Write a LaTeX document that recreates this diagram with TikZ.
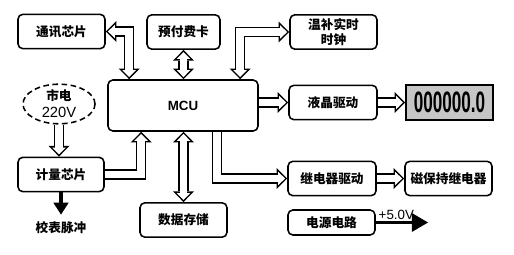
\documentclass[tikz,border=0pt]{standalone}
\usepackage{fontspec}
\setmainfont{Liberation Sans}
\newfontfamily\cjk{Noto Sans CJK SC}
\usetikzlibrary{arrows.meta, shapes.geometric, calc}

% Masse der Hohlpfeile
\def\aw{7.5pt}
\def\iw{5.3pt}
\def\kb{14.9pt}
\def\kl{7.5pt}
\def\ikb{9.6pt}
\def\ikl{4.84pt}
\def\sh{1.56pt}

\tikzset{
    kasten/.style={draw, line width=1.1pt, rounded corners=3.5pt, fill=white,
        minimum width=2.175cm, minimum height=0.86cm, inner sep=1pt, align=center,
        font=\cjk\bfseries\fontsize{9}{11}\selectfont},
    aussenspitze/.tip={Triangle[width=\kb, length=\kl, line width=0pt]},
    innenspitze/.tip={Triangle[width=\ikb, length=\ikl, line width=0pt]},
    aussenE/.style={line width=\aw, color=black, -{aussenspitze}},
    aussenB/.style={line width=\aw, color=black, {aussenspitze}-{aussenspitze}},
    innenE/.style={line width=\iw, color=white, shorten >=\sh, -{innenspitze}},
    innenB/.style={line width=\iw, color=white, shorten >=\sh, shorten <=\sh,
        {innenspitze}-{innenspitze}},
}

% Hohlpfeil: erst schwarz, dann weiss darueber
\newcommand{\hohl}[2]{\draw[aussen#1] #2; \draw[innen#1] #2;}

\begin{document}
\begin{tikzpicture}[x=0.025cm, y=-0.025cm]

% Hintergrund
\fill[white] (0,0) rectangle (514,255);
\useasboundingbox (0,0) rectangle (514,255);

% Kaesten
\node[kasten] (comm) at (61.5,31.5) {通讯芯片};
\node[kasten, minimum width=1.825cm] (card) at (183.5,32) {预付费卡};
\node[kasten] (rtc) at (333.5,32) {温补实时\\时钟};
\node[kasten, minimum width=3.75cm, minimum height=1.275cm,
      font=\bfseries\fontsize{9.5}{11}\selectfont] (mcu) at (183,105.5) {MCU};
\node[kasten, minimum width=2.2cm] (lcddrv) at (333,102.5) {液晶驱动};
\node[kasten, minimum width=2.2cm] (relaydrv) at (332,178.5) {继电器驱动};
\node[kasten] (relay) at (448.5,178.5) {磁保持继电器};
\node[kasten, minimum height=0.625cm] (power) at (331.5,222.5) {电源电路};
\node[kasten, minimum width=2.15cm] (meter) at (61,174.5) {计量芯片};
\node[kasten] (store) at (183.5,220) {数据存储};

% Anzeige
\node[draw, line width=1.2pt, fill=gray!45, minimum width=2.175cm,
      minimum height=0.875cm, inner sep=0pt] (lcd) at (449.5,102.5)
      {\scalebox{0.58}[1]{\bfseries\fontsize{21}{21}\selectfont 000000.0}};

% Netz
\node[ellipse, draw, dashed, line width=1.1pt, dash pattern=on 4pt off 2.5pt,
      minimum width=1.8cm, minimum height=0.95cm, inner sep=0pt, align=center,
      font=\fontsize{10.5}{12}\selectfont] (mains) at (59,104)
      {{\cjk\bfseries\fontsize{9}{12}\selectfont 市电}\\220V};

% Beschriftung unten links
\node[font=\cjk\bfseries\fontsize{9}{11}\selectfont, inner sep=1pt] (pulse) at (61,228) {校表脉冲};

% Hohlpfeile
\hohl{B}{(comm.east) -| ($(mcu.north west)+(22,0)$)}
\hohl{B}{(card.south) -- (card.south |- mcu.north)}
\hohl{B}{(rtc.west) -| ($(mcu.north west)+(133,0)$)}
\hohl{E}{(mcu.east |- lcddrv.west) -- (lcddrv.west)}
\hohl{E}{(lcddrv.east) -- (lcd.west)}
\hohl{E}{($(mcu.south west)+(110,0)$) |- (relaydrv.west)}
\hohl{E}{(relaydrv.east) -- (relay.west)}
\hohl{E}{(meter.east) -| ($(mcu.south west)+(34,0)$)}
\hohl{E}{(mains.south) -- (mains.south |- meter.north)}
\hohl{B}{(store.north) -- (store.north |- mcu.south)}

% Volle Pfeile
\draw[line width=3.5pt, -{Triangle[width=11pt, length=8.5pt, line width=0pt]},
      shorten >=4pt] (meter.south) -- (meter.south |- pulse.north);
\coordinate (v5) at (428,222.5);
\draw[line width=2.2pt, -{Triangle[width=13.5pt, length=11.5pt, line width=0pt]}]
      (power.east) -- (v5)
      node[pos=0, anchor=south west, inner sep=1pt, font=\fontsize{9.5}{11}\selectfont] {+5.0V};

\end{tikzpicture}
\end{document}
